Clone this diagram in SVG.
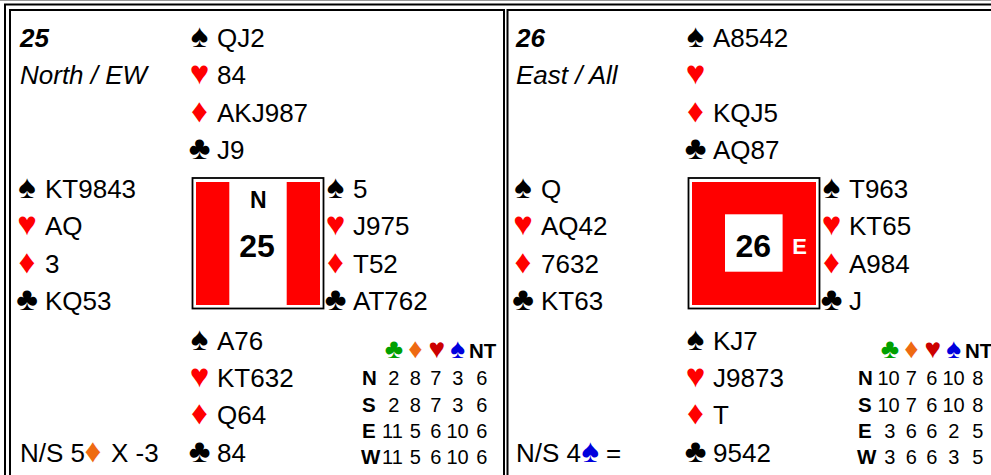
<svg xmlns="http://www.w3.org/2000/svg" width="991" height="475" viewBox="0 0 991 475">
<style>
text{font-family:"Liberation Sans",Arial,"DejaVu Sans",sans-serif;fill:#000}
.h{font-size:26px}
.bi{font-size:26px;font-weight:bold;font-style:italic}
.it{font-size:26px;font-style:italic}
.sy{font-size:33px;text-anchor:middle}
.k{fill:#000}
.r{fill:#ff0000}
.lbl{font-size:23px;font-weight:bold;text-anchor:middle}
.num{font-size:32px;font-weight:bold;text-anchor:middle}
.ps{font-size:28px;text-anchor:middle}
.nt{font-size:20.5px;font-weight:bold}
.pl{font-size:20.5px;font-weight:bold}
.pn{font-size:20px;text-anchor:middle}
.cg{fill:#00a000}
.co{fill:#ee6a12}
.ch{fill:#cc0000}
.cs{fill:#0000dd}
.bd{fill:none;stroke:#000;stroke-width:2}
.red{fill:#ff0000}
</style>
<defs>
<g id="par-head">
<text class="ps cg" x="394" y="358">♣</text>
<text class="ps co" x="415.3" y="358">♦</text>
<text class="ps ch" x="436.7" y="358">♥</text>
<text class="ps cs" x="457.7" y="358">♠</text>
<text class="nt" x="469" y="357.7">NT</text>
<text class="pl" x="362" y="385">N</text>
<text class="pl" x="362" y="411.5">S</text>
<text class="pl" x="362" y="438">E</text>
<text class="pl" x="361" y="464.3">W</text>
</g>
<g id="suits-n">
<text class="sy k" x="199.5" y="47">♠</text>
<text class="sy r" x="199.5" y="84.3">♥</text>
<text class="sy r" x="199.5" y="121.6">♦</text>
<text class="sy k" x="199.5" y="158.9">♣</text>
</g>
<g id="suits-w">
<text class="sy k" x="27" y="198">♠</text>
<text class="sy r" x="27" y="235.3">♥</text>
<text class="sy r" x="27" y="272.6">♦</text>
<text class="sy k" x="27" y="309.9">♣</text>
</g>
<g id="suits-e">
<text class="sy k" x="335.5" y="198">♠</text>
<text class="sy r" x="335.5" y="235.3">♥</text>
<text class="sy r" x="335.5" y="272.6">♦</text>
<text class="sy k" x="335.5" y="309.9">♣</text>
</g>
<g id="suits-s">
<text class="sy k" x="199.5" y="349.5">♠</text>
<text class="sy r" x="199.5" y="387">♥</text>
<text class="sy r" x="199.5" y="424.2">♦</text>
<text class="sy k" x="199.5" y="461.6">♣</text>
</g>
</defs>
<g id="frame">
<line x1="0" y1="0.5" x2="991" y2="0.5" stroke="#999" stroke-width="1"/>
<path class="bd" d="M5,476 V4.5 H992"/>
<path class="bd" d="M10,476 V10 H504 V476"/>
<path class="bd" d="M507.5,476 V10 H992"/>
</g>
<g id="connectors"/>
<g id="board-25">
<g id="b25-info">
<text class="bi" x="20" y="47">25</text>
<text class="it" x="20" y="84.3">North / EW</text>
<text class="h" x="20" y="461.6">N/S 5</text>
<text class="sy co" x="93" y="461.6">♦</text>
<text class="h" x="111" y="461.6">X -3</text>
</g>
<g id="b25-north">
<use href="#suits-n"/>
<text class="h" x="217" y="47">QJ2</text>
<text class="h" x="217" y="84.3">84</text>
<text class="h" x="217" y="121.6">AKJ987</text>
<text class="h" x="217" y="158.9">J9</text>
</g>
<g id="b25-west">
<use href="#suits-w"/>
<text class="h" x="45" y="198">KT9843</text>
<text class="h" x="45" y="235.3">AQ</text>
<text class="h" x="45" y="272.6">3</text>
<text class="h" x="45" y="309.9">KQ53</text>
</g>
<g id="b25-compass">
<rect x="192.5" y="178" width="131" height="130.5" fill="#fff" stroke="#000" stroke-width="1.8"/>
<rect class="red" x="196" y="182" width="33.3" height="123"/>
<rect class="red" x="286.7" y="182" width="33.3" height="123"/>
<text class="lbl" x="258.3" y="208.3">N</text>
<text class="num" x="257" y="257">25</text>
</g>
<g id="b25-east">
<use href="#suits-e"/>
<text class="h" x="353" y="198">5</text>
<text class="h" x="353" y="235.3">J975</text>
<text class="h" x="353" y="272.6">T52</text>
<text class="h" x="353" y="309.9">AT762</text>
</g>
<g id="b25-south">
<use href="#suits-s"/>
<text class="h" x="217" y="349.5">A76</text>
<text class="h" x="217" y="387">KT632</text>
<text class="h" x="217" y="424.2">Q64</text>
<text class="h" x="217" y="461.6">84</text>
</g>
<g id="b25-par">
<use href="#par-head"/>
<text class="pn" y="385"><tspan x="393.7">2</tspan><tspan x="415.3">8</tspan><tspan x="435.8">7</tspan><tspan x="457.8">3</tspan><tspan x="481.7">6</tspan></text>
<text class="pn" y="411.5"><tspan x="393.7">2</tspan><tspan x="415.3">8</tspan><tspan x="435.8">7</tspan><tspan x="457.8">3</tspan><tspan x="481.7">6</tspan></text>
<text class="pn" y="438"><tspan x="392.5">11</tspan><tspan x="415.3">5</tspan><tspan x="435.8">6</tspan><tspan x="457.5">10</tspan><tspan x="481.7">6</tspan></text>
<text class="pn" y="464.3"><tspan x="392.5">11</tspan><tspan x="415.3">5</tspan><tspan x="435.8">6</tspan><tspan x="457.5">10</tspan><tspan x="481.7">6</tspan></text>
</g>
</g>
<g id="board-26" transform="translate(496,0)">
<g id="b26-info">
<text class="bi" x="20" y="47">26</text>
<text class="it" x="20" y="84.3">East / All</text>
<text class="h" x="20" y="461.6">N/S 4</text>
<text class="sy cs" x="94.3" y="461.6">♠</text>
<text class="h" x="110" y="461.6">=</text>
</g>
<g id="b26-north">
<use href="#suits-n"/>
<text class="h" x="217" y="47">A8542</text>
<text class="h" x="217" y="121.6">KQJ5</text>
<text class="h" x="217" y="158.9">AQ87</text>
</g>
<g id="b26-west">
<use href="#suits-w"/>
<text class="h" x="45" y="198">Q</text>
<text class="h" x="45" y="235.3">AQ42</text>
<text class="h" x="45" y="272.6">7632</text>
<text class="h" x="45" y="309.9">KT63</text>
</g>
<g id="b26-compass">
<rect x="192.5" y="178" width="131" height="130.5" fill="#fff" stroke="#000" stroke-width="1.8"/>
<rect class="red" x="196" y="182" width="124" height="123"/>
<rect x="229" y="214.3" width="57.6" height="57.4" fill="#fff"/>
<text class="num" x="257.3" y="257">26</text>
<text class="lbl" x="303.7" y="254.3" style="fill:#fff;font-size:22px">E</text>
</g>
<g id="b26-east">
<use href="#suits-e"/>
<text class="h" x="353" y="198">T963</text>
<text class="h" x="353" y="235.3">KT65</text>
<text class="h" x="353" y="272.6">A984</text>
<text class="h" x="353" y="309.9">J</text>
</g>
<g id="b26-south">
<use href="#suits-s"/>
<text class="h" x="217" y="349.5">KJ7</text>
<text class="h" x="217" y="387">J9873</text>
<text class="h" x="217" y="424.2">T</text>
<text class="h" x="217" y="461.6">9542</text>
</g>
<g id="b26-par">
<use href="#par-head"/>
<text class="pn" y="385"><tspan x="392.5">10</tspan><tspan x="415.3">7</tspan><tspan x="435.8">6</tspan><tspan x="457.5">10</tspan><tspan x="481.7">8</tspan></text>
<text class="pn" y="411.5"><tspan x="392.5">10</tspan><tspan x="415.3">7</tspan><tspan x="435.8">6</tspan><tspan x="457.5">10</tspan><tspan x="481.7">8</tspan></text>
<text class="pn" y="438"><tspan x="393.7">3</tspan><tspan x="415.3">6</tspan><tspan x="435.8">6</tspan><tspan x="457.8">2</tspan><tspan x="481.7">5</tspan></text>
<text class="pn" y="464.3"><tspan x="393.7">3</tspan><tspan x="415.3">6</tspan><tspan x="435.8">6</tspan><tspan x="457.8">3</tspan><tspan x="481.7">5</tspan></text>
</g>
</g>
</svg>
